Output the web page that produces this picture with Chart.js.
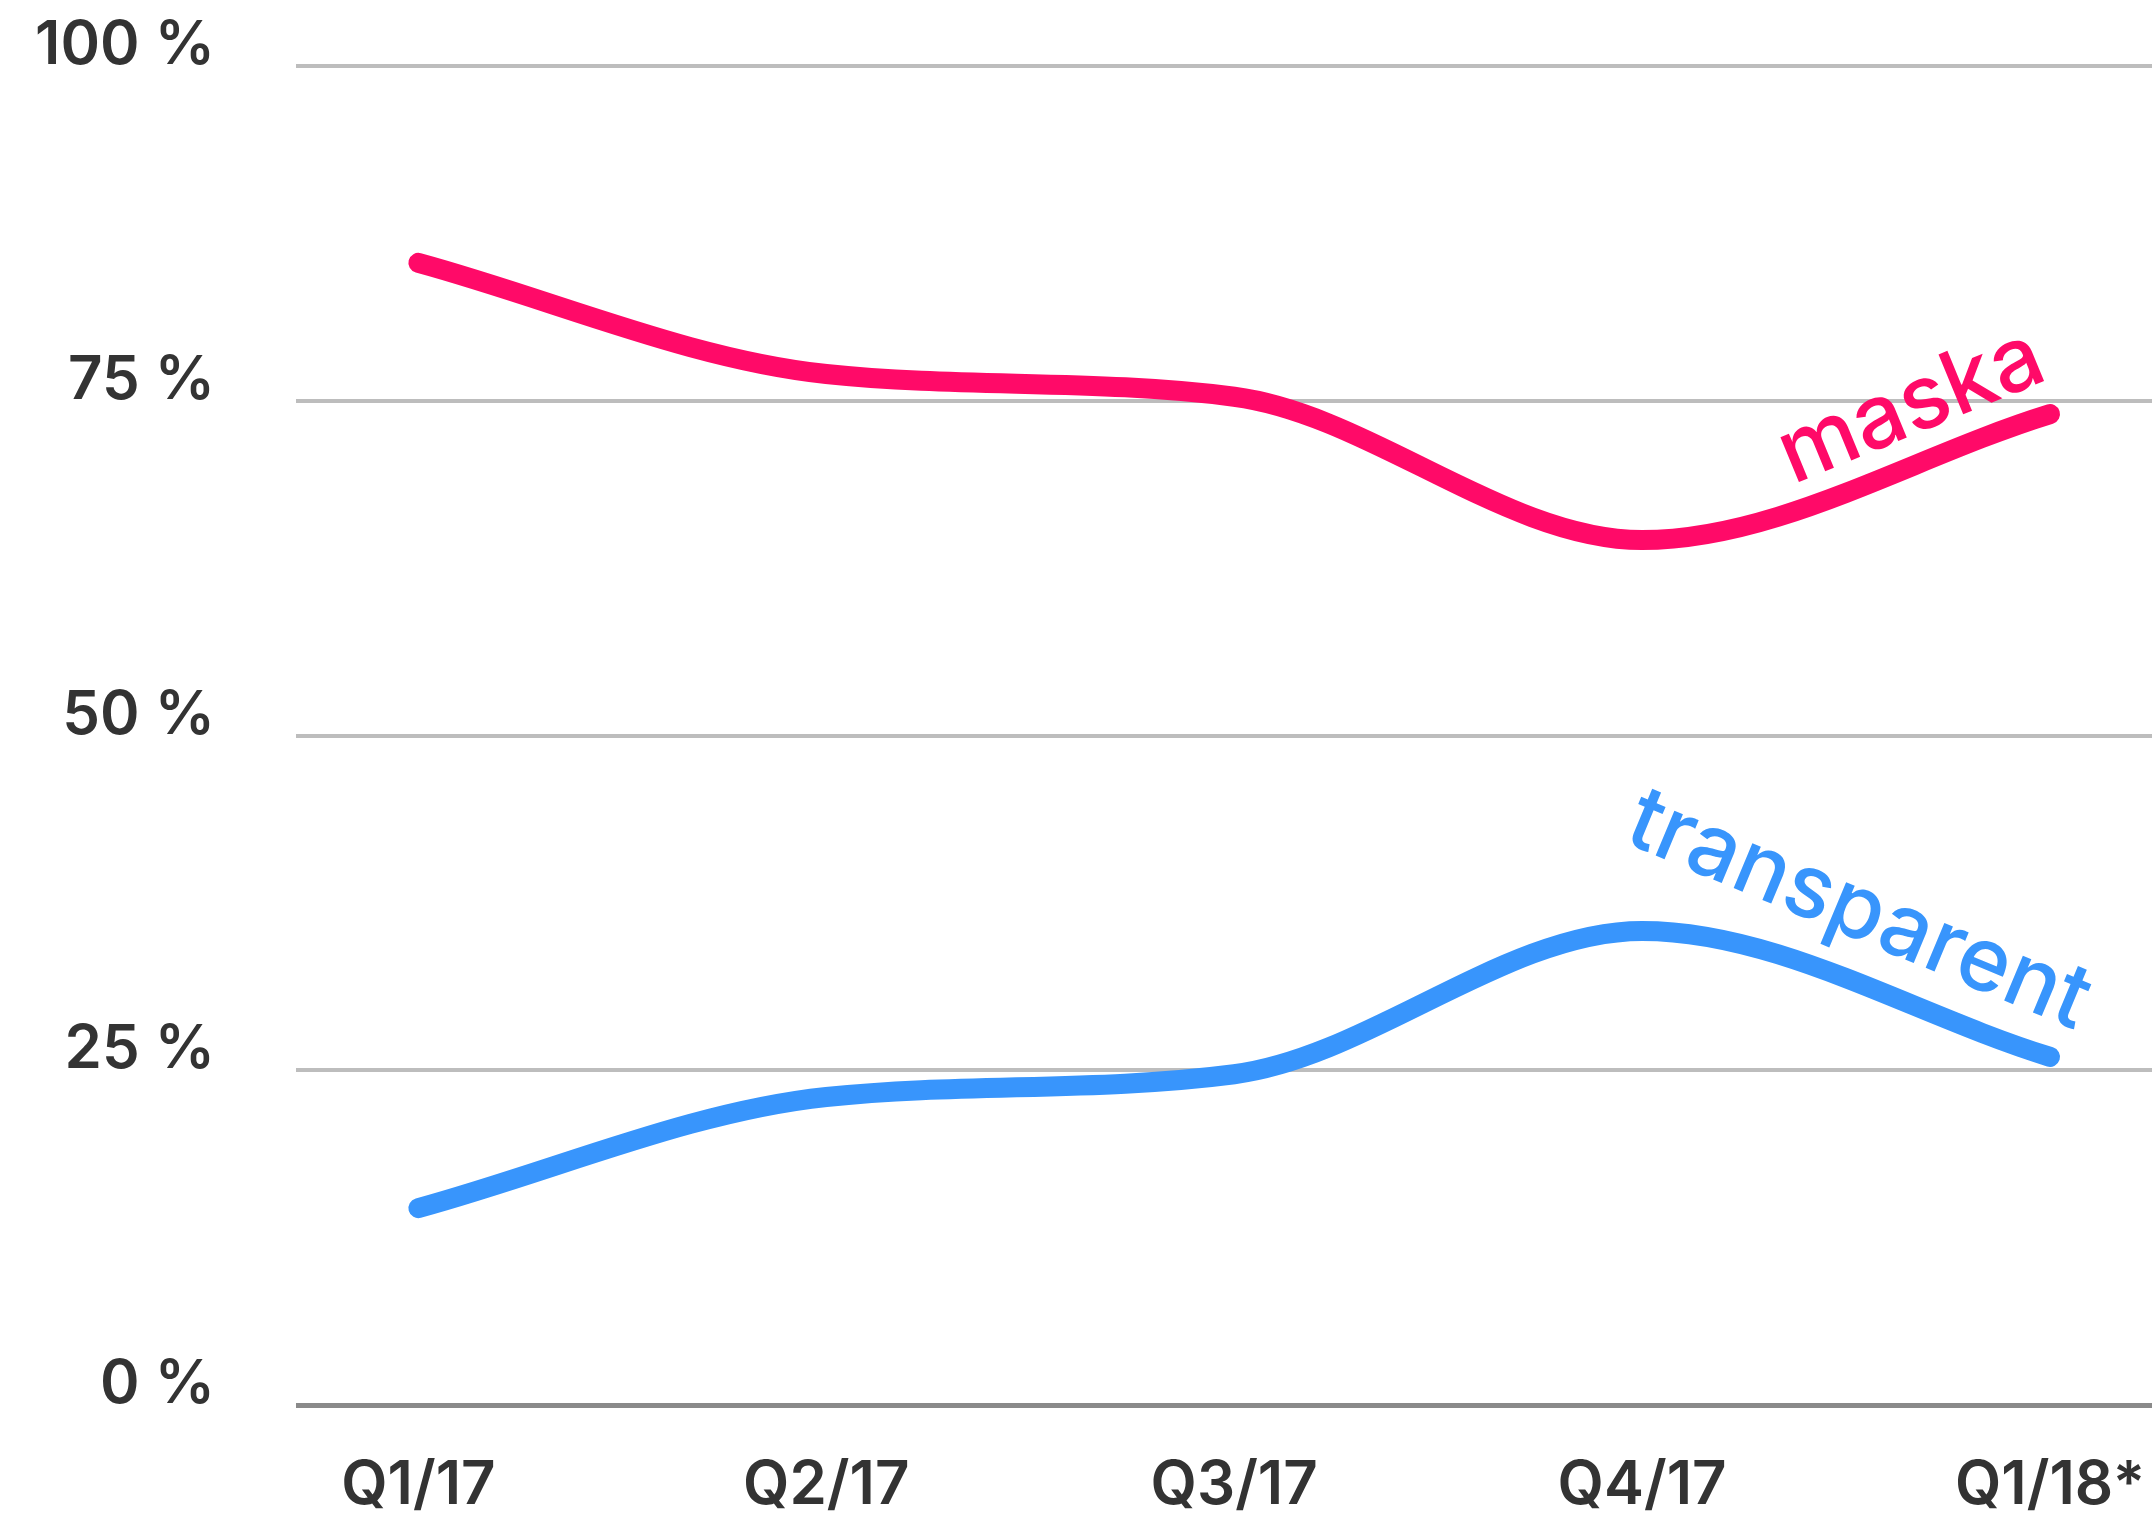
<!DOCTYPE html>
<html>
<head>
<meta charset="utf-8">
<script src="https://cdn.jsdelivr.net/npm/chart.js@4"></script>
<style>
  html, body { margin: 0; padding: 0; background: #fff; }
  #wrap { width: 2152px; height: 1520px; }
</style>
</head>
<body>
<div id="wrap"><canvas id="canvas"></canvas></div>
<script>
const quarters = ['Q1/17', 'Q2/17', 'Q3/17', 'Q4/17', 'Q1/18*']
const maska = [85.3, 77, 75.3, 64.6, 74]
const transparent = [14.7, 23, 24.7, 35.4, 26]
const yTicks = [0, 25, 50, 75, 100]

const pink = '#ff0a68'
const blue = '#3895fc'
const fontFamily = 'Inter, "Noto Sans", sans-serif'

// line names written along the curves
const lineLabels = {
    afterDatasetsDraw(chart) {
        const { ctx, scales: { x, y } } = chart
        const items = [
            { text: 'maska', color: pink, at: [3.37, 68.75], angle: -22.4 },
            { text: 'transparent', color: blue, at: [2.95, 42.1], angle: 22.6 }
        ]
        ctx.save()
        ctx.font = '500 89px ' + fontFamily
        ctx.textAlign = 'left'
        ctx.textBaseline = 'alphabetic'
        for (const it of items) {
            ctx.save()
            ctx.translate(x.getPixelForValue(it.at[0]), y.getPixelForValue(it.at[1]))
            ctx.rotate(it.angle * Math.PI / 180)
            ctx.fillStyle = it.color
            ctx.fillText(it.text, 0, 0)
            ctx.restore()
        }
        ctx.restore()
    }
}

const toPoints = arr => arr.map((v, i) => ({ x: i, y: v }))

const config = {
    type: 'line',
    plugins: [lineLabels],
    data: {
        datasets: [{
            label: 'maska',
            data: toPoints(maska),
            borderColor: pink,
            backgroundColor: pink,
            borderWidth: 20,
            borderCapStyle: 'round',
            borderJoinStyle: 'round',
            cubicInterpolationMode: 'monotone',
            pointRadius: 0,
            fill: false
        }, {
            label: 'transparent',
            data: toPoints(transparent),
            borderColor: blue,
            backgroundColor: blue,
            borderWidth: 20,
            borderCapStyle: 'round',
            borderJoinStyle: 'round',
            cubicInterpolationMode: 'monotone',
            pointRadius: 0,
            fill: false
        }]
    },
    options: {
        responsive: true,
        maintainAspectRatio: false,
        animation: false,
        layout: { padding: { top: 66, right: 0, bottom: 0, left: 0 } },
        plugins: {
            legend: { display: false },
            tooltip: { enabled: false }
        },
        scales: {
            x: {
                type: 'linear',
                min: -0.3,
                max: 4.25,
                afterBuildTicks(s) {
                    s.ticks = quarters.map((q, i) => ({ value: i }))
                },
                afterFit(s) {
                    s.height = 115
                    s.paddingLeft = 0
                    s.paddingRight = 0
                },
                grid: { display: false, drawTicks: false },
                border: { display: false },
                ticks: {
                    padding: 45,
                    color: '#333',
                    font: { family: fontFamily, size: 60, weight: '600' },
                    callback: v => quarters[v] ?? ''
                }
            },
            y: {
                min: 0,
                max: 100,
                afterBuildTicks(s) {
                    s.ticks = yTicks.map(v => ({ value: v }))
                },
                afterFit(s) {
                    s.width = 296
                    s.paddingTop = 0
                    s.paddingBottom = 0
                },
                grid: {
                    drawTicks: false,
                    color: c => c.tick && c.tick.value === 0 ? '#8a8a8a' : '#bdbdbd',
                    lineWidth: c => c.tick && c.tick.value === 0 ? 5 : 4
                },
                border: { display: false },
                ticks: {
                    padding: 81,
                    labelOffset: -20,
                    color: '#333',
                    font: { family: fontFamily, size: 60, weight: '600' },
                    callback: v => v + ' %'
                }
            }
        }
    }
}

const canvas = document.getElementById('canvas')
const chart = new Chart(canvas, config)
</script>
</body>
</html>
